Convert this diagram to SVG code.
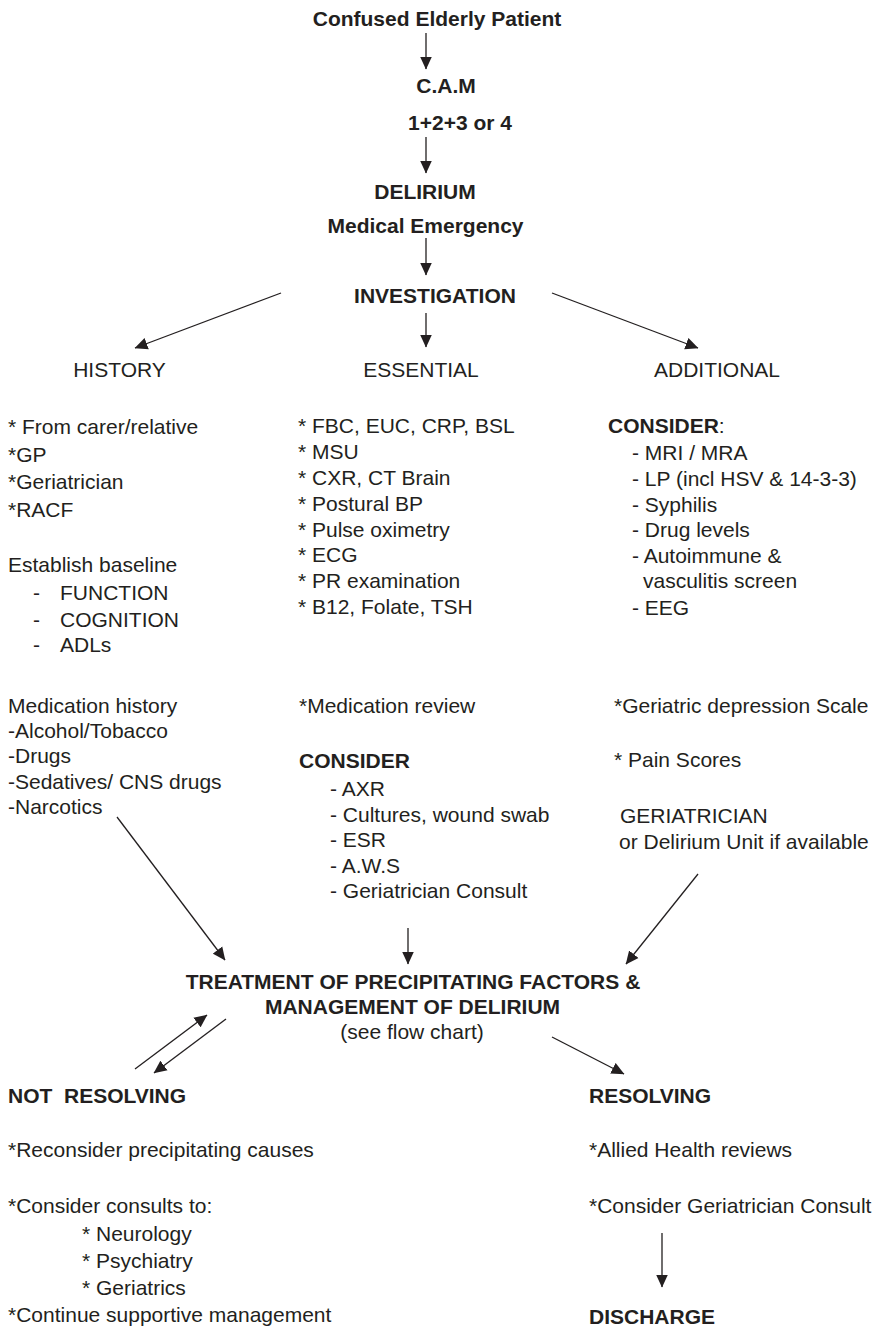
<svg xmlns="http://www.w3.org/2000/svg" width="879" height="1329" viewBox="0 0 879 1329">
<style>
text{font-family:"Liberation Sans",Arial,sans-serif;font-size:21px;fill:#231f20}
.b{font-weight:bold}
.c{text-anchor:middle}
.ln{stroke:#231f20;stroke-width:1.3;fill:none}
</style>
<defs>
<marker id="ah" markerUnits="userSpaceOnUse" markerWidth="13" markerHeight="13" viewBox="0 0 13 12" refX="12.5" refY="6" orient="auto">
<path d="M0,0 L13,6 L0,12 z" fill="#231f20"/>
</marker>
</defs>
<rect width="879" height="1329" fill="#fff"/>
<g id="connectors">
<line class="ln" x1="426" y1="33" x2="426" y2="69" marker-end="url(#ah)"/>
<line class="ln" x1="426" y1="137" x2="426" y2="173" marker-end="url(#ah)"/>
<line class="ln" x1="426" y1="238" x2="426" y2="275" marker-end="url(#ah)"/>
<line class="ln" x1="426" y1="313" x2="426" y2="347" marker-end="url(#ah)"/>
<line class="ln" x1="281" y1="293" x2="135" y2="348" marker-end="url(#ah)"/>
<line class="ln" x1="552" y1="293" x2="698" y2="348" marker-end="url(#ah)"/>
<line class="ln" x1="117" y1="817" x2="225" y2="960" marker-end="url(#ah)"/>
<line class="ln" x1="408" y1="928" x2="408" y2="964" marker-end="url(#ah)"/>
<line class="ln" x1="698" y1="874" x2="626" y2="964" marker-end="url(#ah)"/>
<line class="ln" x1="135" y1="1069" x2="207" y2="1015" marker-end="url(#ah)"/>
<line class="ln" x1="226" y1="1019" x2="154" y2="1073" marker-end="url(#ah)"/>
<line class="ln" x1="552" y1="1037" x2="624" y2="1074" marker-end="url(#ah)"/>
<line class="ln" x1="662" y1="1233" x2="662" y2="1287" marker-end="url(#ah)"/>
</g>
<g id="patient"><text class="b c" x="437" y="26">Confused Elderly Patient</text></g>
<g id="cam">
<text class="b c" x="446" y="93">C.A.M</text>
<text class="b c" x="460" y="130">1+2+3 or 4</text>
</g>
<g id="delirium">
<text class="b c" x="425" y="199">DELIRIUM</text>
<text class="b c" x="425.5" y="233">Medical Emergency</text>
</g>
<g id="investigation"><text class="b c" x="435" y="303">INVESTIGATION</text></g>
<g id="history">
<text class="c" x="119.5" y="377">HISTORY</text>
<text x="8" y="434">* From carer/relative</text>
<text x="8" y="462">*GP</text>
<text x="8" y="489">*Geriatrician</text>
<text x="8" y="517">*RACF</text>
<text x="8" y="572">Establish baseline</text>
<text x="33" y="600">-<tspan x="60">FUNCTION</tspan></text>
<text x="33" y="627">-<tspan x="60">COGNITION</tspan></text>
<text x="33" y="652">-<tspan x="60">ADLs</tspan></text>
<text x="8" y="713">Medication history</text>
<text x="8" y="738">-Alcohol/Tobacco</text>
<text x="8" y="763">-Drugs</text>
<text x="8" y="789">-Sedatives/ CNS drugs</text>
<text x="8" y="814">-Narcotics</text>
</g>
<g id="essential">
<text class="c" x="421" y="377">ESSENTIAL</text>
<text x="298" y="433">* FBC, EUC, CRP, BSL</text>
<text x="298" y="459">* MSU</text>
<text x="298" y="485">* CXR, CT Brain</text>
<text x="298" y="511">* Postural BP</text>
<text x="298" y="537">* Pulse oximetry</text>
<text x="298" y="562">* ECG</text>
<text x="298" y="588">* PR examination</text>
<text x="298" y="614">* B12, Folate, TSH</text>
<text x="299" y="713">*Medication review</text>
<text class="b" x="299" y="768">CONSIDER</text>
<text x="330" y="796">- AXR</text>
<text x="330" y="822">- Cultures, wound swab</text>
<text x="330" y="847">- ESR</text>
<text x="330" y="873">- A.W.S</text>
<text x="330" y="898">- Geriatrician Consult</text>
</g>
<g id="additional">
<text class="c" x="717" y="377">ADDITIONAL</text>
<text x="608" y="433"><tspan class="b">CONSIDER</tspan>:</text>
<text x="632" y="460">- MRI / MRA</text>
<text x="632" y="486">- LP (incl HSV &amp; 14-3-3)</text>
<text x="632" y="512">- Syphilis</text>
<text x="632" y="537">- Drug levels</text>
<text x="632" y="563">- Autoimmune &amp;</text>
<text x="643" y="588">vasculitis screen</text>
<text x="632" y="615">- EEG</text>
<text x="614" y="713">*Geriatric depression Scale</text>
<text x="614" y="767">* Pain Scores</text>
<text x="620" y="823">GERIATRICIAN</text>
<text x="619" y="849">or Delirium Unit if available</text>
</g>
<g id="treatment">
<text class="b c" x="413" y="989">TREATMENT OF PRECIPITATING FACTORS &amp;</text>
<text class="b c" x="412.5" y="1014">MANAGEMENT OF DELIRIUM</text>
<text class="c" x="412" y="1039">(see flow chart)</text>
</g>
<g id="not-resolving">
<text class="b" x="8" y="1103" style="white-space:pre">NOT  RESOLVING</text>
<text x="8" y="1157">*Reconsider precipitating causes</text>
<text x="8" y="1213">*Consider consults to:</text>
<text x="82" y="1241">* Neurology</text>
<text x="82" y="1268">* Psychiatry</text>
<text x="82" y="1295">* Geriatrics</text>
<text x="8" y="1322">*Continue supportive management</text>
</g>
<g id="resolving">
<text class="b" x="589" y="1103">RESOLVING</text>
<text x="589" y="1157">*Allied Health reviews</text>
<text x="589" y="1213">*Consider Geriatrician Consult</text>
</g>
<g id="discharge"><text class="b" x="589" y="1324">DISCHARGE</text></g>
</svg>
